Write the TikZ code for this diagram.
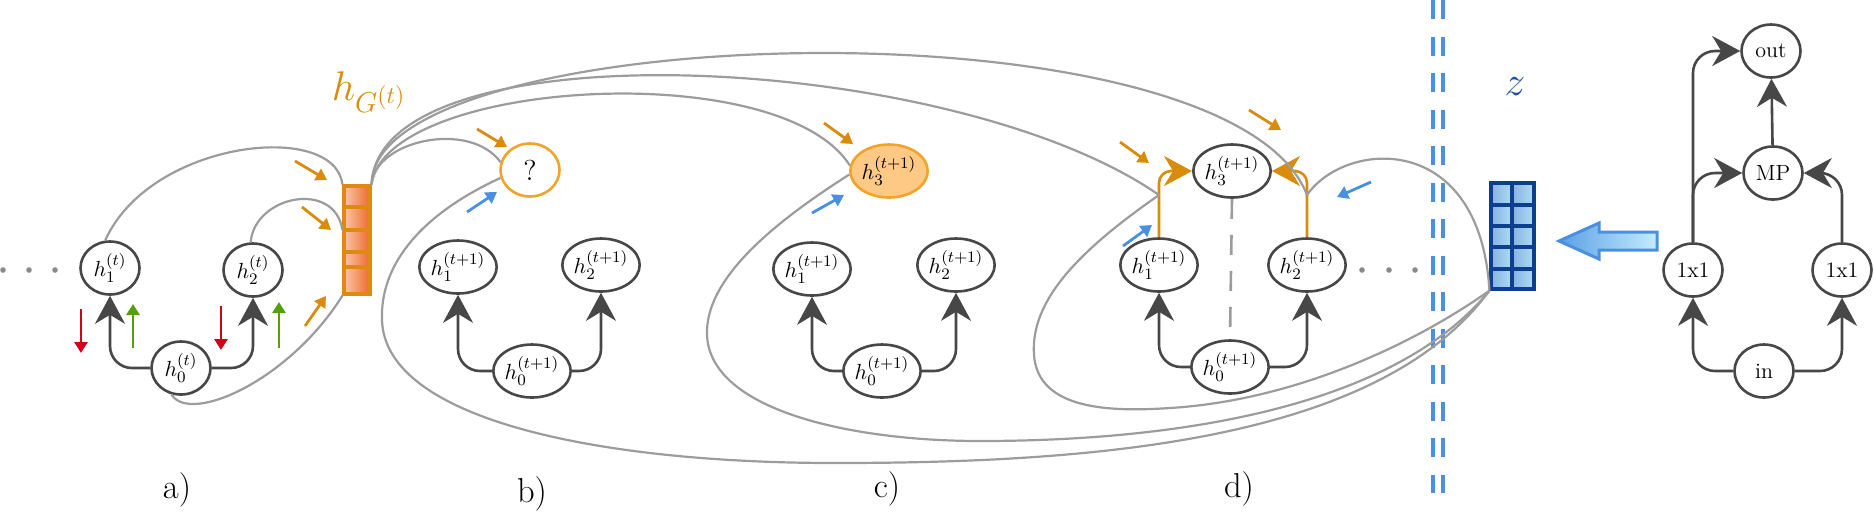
\documentclass[tikz,border=0pt]{standalone}
\usetikzlibrary{arrows.meta,shapes.geometric,calc}
\definecolor{dk}{HTML}{474747}
\definecolor{gc}{HTML}{9C9C9C}
\definecolor{org}{HTML}{D98B0C}
\definecolor{qorg}{HTML}{F2A329}
\definecolor{hfill}{HTML}{FDC985}
\definecolor{vb}{HTML}{DE8A10}
\definecolor{vl}{HTML}{FCC6A6}
\definecolor{vr}{HTML}{EC6A2C}
\definecolor{bl}{HTML}{4A90E2}
\definecolor{db}{HTML}{0D3F8F}
\definecolor{zcl}{HTML}{86B2DF}
\definecolor{zcr}{HTML}{AEDCF7}
\definecolor{al}{HTML}{5C9FE4}
\definecolor{ar}{HTML}{C3EDFC}
\definecolor{rd}{HTML}{D0021B}
\definecolor{gn}{HTML}{53A00C}
\definecolor{dotc}{HTML}{8A8A8A}
\definecolor{zt}{HTML}{1B4F9E}
\begin{document}
\begin{tikzpicture}[x=0.5pt,y=-0.5pt,
 hn/.style={ellipse,draw=dk,line width=1.3pt,fill=white,minimum width=29.5pt,minimum height=26.5pt,inner sep=0pt,font=\fontsize{11}{13}\selectfont},
 conn/.style={draw=dk,line width=1.3pt,rounded corners=11pt,-{Stealth[length=14pt,width=15pt,inset=4.5pt]}},
 oconn/.style={draw=org,line width=1.3pt,rounded corners=6pt,-{Stealth[length=14pt,width=15pt,inset=4.5pt]}},
 gcv/.style={draw=gc,line width=1.1pt},
 sarr/.style={line width=1.4pt,-{Triangle[length=5.5pt,width=6.5pt]}},
 lab/.style={font=\LARGE},
]
\useasboundingbox (0,0) rectangle (1874,511);

% ---------- a)
\node[hn] (h1a) at (110,268) {$h_1^{(t)}$};
\node[hn] (h2a) at (253,270) {$h_2^{(t)}$};
\node[hn] (h0a) at (181,368) {$h_0^{(t)}$};
\draw[conn] (h0a.west) -| (h1a.south);
\draw[conn] (h0a.east) -| (h2a.south);
\draw[sarr,rd] (81,309) -- (81,353);
\draw[sarr,gn] (133,348) -- (133,304);
\draw[sarr,rd] (221,306) -- (221,350);
\draw[sarr,gn] (279,348) -- (279,302);
\foreach \xx in {3,29,55} \fill[dotc] (\xx,270) circle (1.4pt);

% vector h_G
\shade[left color=vl,right color=vr] (344,186) rectangle (370,294);
\node[draw=vb,line width=1.6pt,minimum width=13pt,minimum height=54pt,inner sep=0pt] (hg) at (357,240) {};
\foreach \yy in {207,230,252,267} \draw[vb,line width=1.6pt] (344,\yy) -- (370,\yy);
\node[text=org,font=\huge] (hgl) at (369,92) {$h_{G^{(t)}}$};

\draw[sarr,org] (295,161) -- (327,180);
\draw[sarr,org] (302,207) -- (331,230);
\draw[sarr,org] (305,326) -- (326,296);

% ---------- b)
\node[hn,draw=qorg,font=\Large] (q) at (530,170) {?};
\node[hn] (h1b) at (458,267) {$h_1^{(t+1)}$};
\node[hn] (h2b) at (601,265) {$h_2^{(t+1)}$};
\node[hn] (h0b) at (532,371) {$h_0^{(t+1)}$};
\draw[conn] (h0b.west) -| (h1b.south);
\draw[conn] (h0b.east) -| (h2b.south);
\draw[sarr,org] (477,129) -- (507,147);
\draw[sarr,bl] (467,212) -- (497,192);

% ---------- c)
\node[hn,draw=qorg,fill=hfill] (h3c) at (889,171) {$h_3^{(t+1)}$};
\node[hn] (h1c) at (812,269) {$h_1^{(t+1)}$};
\node[hn] (h2c) at (956,265) {$h_2^{(t+1)}$};
\node[hn] (h0c) at (882,371) {$h_0^{(t+1)}$};
\draw[conn] (h0c.west) -| (h1c.south);
\draw[conn] (h0c.east) -| (h2c.south);
\draw[sarr,org] (824,123) -- (853,144);
\draw[sarr,bl] (812,213) -- (844,195);

% ---------- d)
\node[hn] (h3d) at (1232,171) {$h_3^{(t+1)}$};
\node[hn] (h1d) at (1159,265) {$h_1^{(t+1)}$};
\node[hn] (h2d) at (1307,265) {$h_2^{(t+1)}$};
\node[hn] (h0d) at (1230,367) {$h_0^{(t+1)}$};
\draw[conn] (h0d.west) -| (h1d.south);
\draw[conn] (h0d.east) -| (h2d.south);
\draw[gc,line width=1.3pt,dash pattern=on 10pt off 8pt] (h3d.south) -- (h0d.north);
\draw[oconn] (h1d.north) |- (h3d.west);
\draw[oconn] (h2d.north) |- (h3d.east);
\coordinate (jl) at (1159,195);
\coordinate (jr) at (1307,195);
\draw[sarr,org] (1120,142) -- (1149,163);
\draw[sarr,org] (1249,110) -- (1281,130);
\draw[sarr,bl] (1123,246) -- (1152,225);
\draw[sarr,bl] (1371,182) -- (1337,197);
\foreach \xx in {1362,1389,1415} \fill[dotc] (\xx,270) circle (1.4pt);

% ---------- separator
\draw[bl,line width=1.6pt,dash pattern=on 9.5pt off 8.75pt] (1433,0) -- (1433,493);
\draw[bl,line width=1.6pt,dash pattern=on 9.5pt off 8.75pt] (1443,0) -- (1443,493);

% ---------- z vector
\shade[left color=zcl,right color=zcr] (1491,183) rectangle (1512,289);
\shade[left color=zcl,right color=zcr] (1512,183) rectangle (1534,289);
\node[draw=db,line width=1.6pt,minimum width=21.5pt,minimum height=53pt,inner sep=0pt] (zv) at (1512.5,236) {};
\draw[db,line width=1.6pt] (1512,183) -- (1512,289);
\foreach \yy in {205,226,247,269} \draw[db,line width=1.6pt] (1489,\yy) -- (1536,\yy);
\node[text=zt,font=\huge] (zlab) at (1515,87) {$z$};

\shadedraw[left color=al,right color=ar,draw=bl,line width=1.5pt]
 (1559,241) -- (1599,223) -- (1599,232) -- (1657,232) -- (1657,250) -- (1599,250) -- (1599,259) -- cycle;

% ---------- right graph
\node[hn] (out) at (1771,51) {out};
\node[hn] (mp) at (1773,173) {MP};
\node[hn] (ca) at (1693,270) {1x1};
\node[hn] (cb) at (1842,270) {1x1};
\node[hn] (in) at (1764,371) {in};
\draw[conn] (in.west) -| (ca.south);
\draw[conn] (in.east) -| (cb.south);
\draw[conn] (ca.north) |- (mp.west);
\draw[conn] (ca.north) |- (out.west);
\draw[conn] (cb.north) |- (mp.east);
\draw[conn] (mp) -- (out);

% ---------- gray curves
\draw[gcv] (h1a.100) .. controls (150,140) and (335,120) .. (hg.north west);
\draw[gcv] (h2a.95) .. controls (255,195) and (335,180) .. ($(hg.west)+(0,-10)$);
\draw[gcv] (h0a.250) .. controls (190,425) and (290,380) .. (hg.south west);
\draw[gcv] (hg.north east) .. controls (375,140) and (470,120) .. (q.165);
\draw[gcv] (hg.north east) .. controls (385,80) and (780,55) .. (h3c.172);
\draw[gcv] (hg.north east) .. controls (378,25) and (950,50) .. (jl);
\draw[gcv] (hg.north east) .. controls (372,20) and (1230,-5) .. (jr);
\draw[gcv] (q.195) .. controls (420,215) and (380,265) .. (382,320) .. controls (385,420) and (600,463) .. (835,463) .. controls (1100,463) and (1380,440) .. (zv.south west);
\draw[gcv] (h3c.185) .. controls (770,225) and (705,280) .. (707,335) .. controls (710,410) and (850,441) .. (980,441) .. controls (1200,441) and (1400,400) .. (zv.south west);
\draw[gcv] (jl) .. controls (1080,250) and (1030,300) .. (1034,355) .. controls (1038,410) and (1110,412) .. (1170,408) .. controls (1300,400) and (1420,340) .. (zv.south west);
\draw[gcv] (jr) .. controls (1345,140) and (1480,130) .. (zv.south west);

% ---------- labels
\node[lab] (la) at (177,490) {a)};
\node[lab] (lb) at (532,494) {b)};
\node[lab] (lc) at (887,489) {c)};
\node[lab] (ld) at (1239,489) {d)};
\end{tikzpicture}
\end{document}
